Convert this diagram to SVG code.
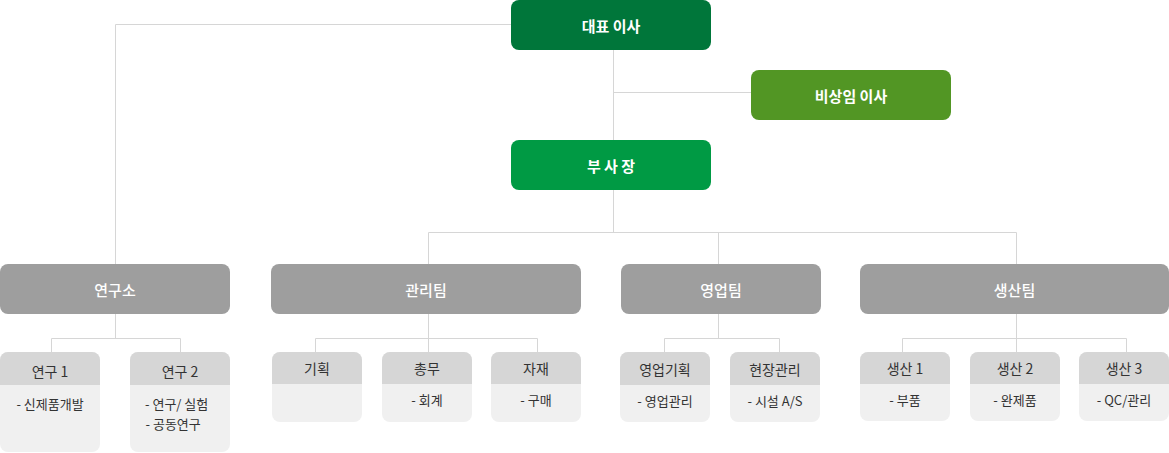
<svg xmlns="http://www.w3.org/2000/svg" width="1169" height="453" viewBox="0 0 1169 453">
<style>
.ln{fill:none;stroke:#d6d6d6;stroke-width:1}
.t{font-family:"Noto Sans CJK KR","Noto Sans",sans-serif;text-anchor:middle;dominant-baseline:central}
.top{fill:#fff;font-size:15px;font-weight:700}
.l2{fill:#9e9e9e}
.l2t{fill:#fff;font-size:15px;font-weight:500}
.body{fill:#f0f0f0}
.head{fill:#d6d6d6}
.ht{fill:#333;font-size:14px}
.bt{fill:#333;font-size:13px}
.st{text-anchor:start}
</style>
<rect width="1169" height="453" fill="#fff"/>
<g id="connectors">
<path class="ln" d="M511 24.5H115.5V264"/>
<path class="ln" d="M613.5 50V140M613.5 92.5H751M613.5 190V232.5"/>
<path class="ln" d="M428.5 264V232.5H1016.5V264M718.5 232.5V264"/>
<path class="ln" d="M115.5 314V338.5M51.5 352V338.5H180.5V352"/>
<path class="ln" d="M428.5 314V352M315.5 352V338.5H537.5V352"/>
<path class="ln" d="M718.5 314V338.5M664.5 352V338.5H779.5V352"/>
<path class="ln" d="M1016.5 314V352M902.5 352V338.5H1126.5V352"/>
</g>
<g id="ceo"><rect x="511" y="0" width="200" height="50" rx="8" fill="#00763a"/><text class="t top" x="611" y="25">대표 이사</text></g>
<g id="outside-director"><rect x="751" y="70" width="200" height="50" rx="8" fill="#529624"/><text class="t top" x="851" y="95">비상임 이사</text></g>
<g id="vp"><rect x="511" y="140" width="200" height="50" rx="8" fill="#009a44"/><text class="t top" x="611" y="165">부 사 장</text></g>
<g id="lab"><rect class="l2" x="0" y="264" width="230" height="50" rx="8"/><text class="t l2t" x="115" y="289">연구소</text></g>
<g id="admin"><rect class="l2" x="271" y="264" width="310" height="50" rx="8"/><text class="t l2t" x="426" y="289">관리팀</text></g>
<g id="sales"><rect class="l2" x="621" y="264" width="200" height="50" rx="8"/><text class="t l2t" x="721" y="289">영업팀</text></g>
<g id="production"><rect class="l2" x="860" y="264" width="309" height="50" rx="8"/><text class="t l2t" x="1014.5" y="289">생산팀</text></g>
<g id="research1"><rect class="body" x="0" y="352" width="100" height="100" rx="8"/><path class="head" d="M0 385V360a8 8 0 0 1 8-8H92a8 8 0 0 1 8 8V385Z"/><text class="t ht" x="50" y="371">연구 1</text><text class="t bt" x="50" y="403">- 신제품개발</text></g>
<g id="research2"><rect class="body" x="130" y="352" width="100" height="100" rx="8"/><path class="head" d="M130 385V360a8 8 0 0 1 8-8H222a8 8 0 0 1 8 8V385Z"/><text class="t ht" x="180" y="371">연구 2</text><text class="t bt st" x="145" y="403">- 연구/ 실험</text><text class="t bt st" x="145.5" y="423">- 공동연구</text></g>
<g id="planning"><rect class="body" x="272" y="352" width="90" height="70" rx="8"/><path class="head" d="M272 384V360a8 8 0 0 1 8-8H354a8 8 0 0 1 8 8V384Z"/><text class="t ht" x="317" y="368">기획</text></g>
<g id="general"><rect class="body" x="382" y="352" width="90" height="70" rx="8"/><path class="head" d="M382 384V360a8 8 0 0 1 8-8H464a8 8 0 0 1 8 8V384Z"/><text class="t ht" x="427" y="368">총무</text><text class="t bt" x="427" y="399">- 회계</text></g>
<g id="materials"><rect class="body" x="491" y="352" width="90" height="70" rx="8"/><path class="head" d="M491 384V360a8 8 0 0 1 8-8H573a8 8 0 0 1 8 8V384Z"/><text class="t ht" x="536" y="368">자재</text><text class="t bt" x="536" y="399">- 구매</text></g>
<g id="sales-planning"><rect class="body" x="620" y="352" width="90" height="70" rx="8"/><path class="head" d="M620 385V360a8 8 0 0 1 8-8H702a8 8 0 0 1 8 8V385Z"/><text class="t ht" x="665" y="369">영업기획</text><text class="t bt" x="665" y="400">- 영업관리</text></g>
<g id="field"><rect class="body" x="730" y="352" width="90" height="70" rx="8"/><path class="head" d="M730 385V360a8 8 0 0 1 8-8H812a8 8 0 0 1 8 8V385Z"/><text class="t ht" x="775" y="369">현장관리</text><text class="t bt" x="775" y="400">- 시설 A/S</text></g>
<g id="prod1"><rect class="body" x="860" y="352" width="90" height="69" rx="8"/><path class="head" d="M860 384V360a8 8 0 0 1 8-8H942a8 8 0 0 1 8 8V384Z"/><text class="t ht" x="905" y="368">생산 1</text><text class="t bt" x="905" y="399">- 부품</text></g>
<g id="prod2"><rect class="body" x="970" y="352" width="90" height="69" rx="8"/><path class="head" d="M970 384V360a8 8 0 0 1 8-8H1052a8 8 0 0 1 8 8V384Z"/><text class="t ht" x="1015" y="368">생산 2</text><text class="t bt" x="1015" y="399">- 완제품</text></g>
<g id="prod3"><rect class="body" x="1079" y="352" width="90" height="69" rx="8"/><path class="head" d="M1079 384V360a8 8 0 0 1 8-8H1161a8 8 0 0 1 8 8V384Z"/><text class="t ht" x="1124" y="368">생산 3</text><text class="t bt" x="1124" y="399">- QC/관리</text></g>
</svg>
